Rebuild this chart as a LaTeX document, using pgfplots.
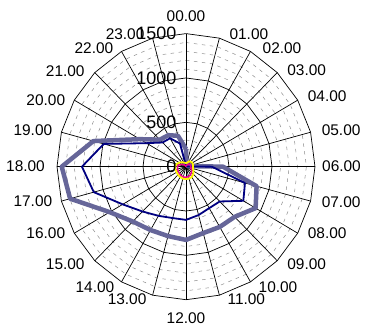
\documentclass[border=0pt]{standalone}
\usepackage{pgfplots}
\pgfplotsset{compat=1.18}
\usepackage{pgfplotstable}
\usepackage{fontspec}
\setmainfont{Liberation Sans}
\definecolor{thickc}{RGB}{102,102,153}
\definecolor{navyc}{RGB}{0,0,128}

% ang = 90 - 15*hour (clockwise from top), last row closes the loop
\pgfplotstableread{
ang thick navy yellow magenta
90   200   10   40   5
75   20    10   45   10
60   20    10   70   25
45   20    10   80   40
30   20    10   85   50
15   25    10   85   55
0    430   300  80   55
-15  850   710  85   60
-30  935   770  100  75
-45  800   555  120  90
-60  785   540  135  105
-75  775   565  140  115
-90  826   600  140  120
-105 810   600  140  120
-120 825   640  135  115
-135 875   715  130  110
-150 1025  850  125  105
-165 1395  1110 125  100
-180 1445  1210 125  100
-195 1115  990  115  85
-210 620   530  90   50
-225 430   385  70   25
-240 410   370  55   10
-255 360   270  45   5
-270 200   10   40   5
}\radar

\begin{document}
\begin{tikzpicture}
\begin{axis}[scale only axis, width=367bp, height=332bp,
  xmin=-2163, xmax=2105, ymin=-1864, ymax=1879,
  hide axis, clip=false]
\path (rel axis cs:0,0) rectangle (rel axis cs:1,1);
% minor rings
\pgfplotsinvokeforeach{100,200,300,400,600,700,800,900,1100,1200,1300,1400}{
  \draw[gray!90, line width=0.5bp, dash pattern=on 3.5bp off 4.5bp] (axis cs:0,#1)
    \foreach \k in {1,...,24}{ -- (axis cs:{#1*sin(15*\k)},{#1*cos(15*\k)})} -- cycle;
}
% major rings
\pgfplotsinvokeforeach{500,1000,1500}{
  \draw[black, line width=0.7bp] (axis cs:0,#1)
    \foreach \k in {1,...,24}{ -- (axis cs:{#1*sin(15*\k)},{#1*cos(15*\k)})} -- cycle;
}
% spokes
\pgfplotsinvokeforeach{0,...,23}{
  \draw[black, line width=0.7bp] (axis cs:0,0) -- (axis cs:{1500*sin(15*#1)},{1500*cos(15*#1)});
}
% series
\addplot[color=thickc, line width=4.5bp, line join=round, mark=none, data cs=polar] table[x=ang,y=thick]{\radar};
\addplot[color=navyc, line width=1.8bp, line join=round, mark=none, data cs=polar] table[x=ang,y=navy]{\radar};
\addplot[color=magenta, line width=1.5bp, line join=round, mark=none, data cs=polar] table[x=ang,y=magenta]{\radar};
\addplot[color=yellow, line width=1.8bp, line join=round, mark=none, data cs=polar] table[x=ang,y=yellow]{\radar};
% value labels
\begin{scope}[every node/.style={anchor=east, inner sep=0pt, font=\fontsize{18}{18}\selectfont}]
\node at (axis cs:-110,0) {0};
\node at (axis cs:-110,500) {500};
\node at (axis cs:-110,1000) {1000};
\node at (axis cs:-110,1500) {1500};
\end{scope}
% hour labels
\begin{scope}[every node/.style={inner sep=0pt, font=\fontsize{15.5}{15.5}\selectfont}]
\node[anchor=south, yshift=12bp] at (axis cs:0,1500) {00.00};
\node[anchor=west, xshift=10bp, yshift=4bp] at (axis cs:388.2,1448.9) {01.00};
\node[anchor=west, xshift=12bp, yshift=3bp] at (axis cs:750,1299) {02.00};
\node[anchor=west, xshift=10bp, yshift=2bp] at (axis cs:1060.7,1060.7) {03.00};
\node[anchor=west, xshift=10bp, yshift=4bp] at (axis cs:1299,750) {04.00};
\node[anchor=west, xshift=11bp, yshift=2bp] at (axis cs:1448.9,388.2) {05.00};
\node[anchor=west, xshift=7bp] at (axis cs:1500,0) {06.00};
\node[anchor=west, xshift=11bp, yshift=-1bp] at (axis cs:1448.9,-388.2) {07.00};
\node[anchor=west, xshift=10bp] at (axis cs:1299,-750) {08.00};
\node[anchor=west, xshift=10bp, yshift=-3bp] at (axis cs:1060.7,-1060.7) {09.00};
\node[anchor=west, xshift=8bp, yshift=-5bp] at (axis cs:750,-1299) {10.00};
\node[anchor=west, xshift=8bp, yshift=-4bp] at (axis cs:388.2,-1448.9) {11.00};
\node[anchor=north, yshift=-13bp] at (axis cs:0,-1500) {12.00};
\node[anchor=east, xshift=-6bp, yshift=-4bp] at (axis cs:-388.2,-1448.9) {13.00};
\node[anchor=east, xshift=-7bp, yshift=-5bp] at (axis cs:-750,-1299) {14.00};
\node[anchor=east, xshift=-10bp, yshift=-3bp] at (axis cs:-1060.7,-1060.7) {15.00};
\node[anchor=east, xshift=-9bp] at (axis cs:-1299,-750) {16.00};
\node[anchor=east, xshift=-9bp] at (axis cs:-1448.9,-388.2) {17.00};
\node[anchor=east, xshift=-12bp] at (axis cs:-1500,0) {18.00};
\node[anchor=east, xshift=-9bp, yshift=2bp] at (axis cs:-1448.9,388.2) {19.00};
\node[anchor=east, xshift=-9bp] at (axis cs:-1299,750) {20.00};
\node[anchor=east, xshift=-10bp, yshift=1bp] at (axis cs:-1060.7,1060.7) {21.00};
\node[anchor=east, xshift=-8bp, yshift=3bp] at (axis cs:-750,1299) {22.00};
\node[anchor=east, xshift=-8bp, yshift=4bp] at (axis cs:-388.2,1448.9) {23.00};
\end{scope}
\end{axis}
\end{tikzpicture}
\end{document}
